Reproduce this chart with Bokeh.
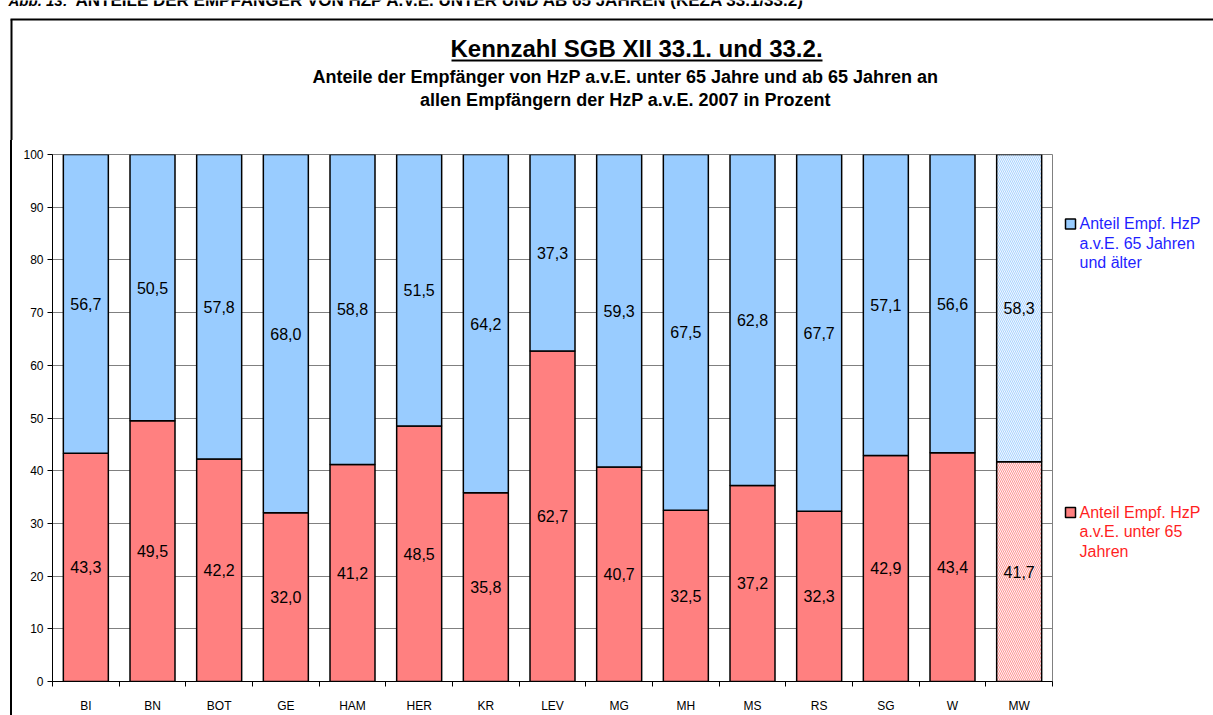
from bokeh.plotting import figure
from bokeh.layouts import column, row
from bokeh.models import (ColumnDataSource, FixedTicker, Range1d, CustomJSTickFormatter, Div)
from bokeh.core.properties import value, field
from bokeh.embed import file_html
from bokeh.resources import INLINE

# Kennzahl SGB XII 33.1 / 33.2 -- Anteile in Prozent, 2007
cities = ["BI", "BN", "BOT", "GE", "HAM", "HER", "KR", "LEV", "MG", "MH",
          "MS", "RS", "SG", "W", "MW"]
under_65 = [43.3, 49.5, 42.2, 32.0, 41.2, 48.5, 35.8, 62.7, 40.7, 32.5,
            37.2, 32.3, 42.9, 43.4, 41.7]
from_65 = [56.7, 50.5, 57.8, 68.0, 58.8, 51.5, 64.2, 37.3, 59.3, 67.5,
           62.8, 67.7, 57.1, 56.6, 58.3]
y_ticks = [0, 10, 20, 30, 40, 50, 60, 70, 80, 90, 100]

caption_lead = "Abb. 13:"
caption_text = "ANTEILE DER EMPFÄNGER VON HZP A.V.E. UNTER UND AB 65 JAHREN (KEZA 33.1/33.2)"
title_text = "Kennzahl SGB XII 33.1. und 33.2."
subtitle_lines = ["Anteile der Empfänger von HzP a.v.E. unter 65 Jahre und ab 65 Jahren an",
                  "allen Empfängern der HzP a.v.E. 2007 in Prozent"]
legend_over = "Anteil Empf. HzP\na.v.E. 65 Jahren\nund älter"
legend_under = "Anteil Empf. HzP\na.v.E. unter 65\nJahren"

FONT = value("Liberation Sans")
RED, BLUE = "#FF8080", "#99CCFF"
RED_PALE, BLUE_PALE = "#FFF2F2", "#F0F7FF"
BLUE_TEXT, RED_TEXT = "#1F1FFF", "#FF1F1F"

W_TOTAL, H_TOP = 1213, 140
W_LEFT, W_MAIN = 12, 1041
W_RIGHT = W_TOTAL - W_LEFT - W_MAIN
H_MAIN = 715 - H_TOP
BORDER_TOP, BORDER_BOTTOM = 14, 31          # space above / below the plot area
FRAME_TOP = H_TOP + BORDER_TOP              # page y of the 100 line
FRAME_BOTTOM = 715 - BORDER_BOTTOM          # page y of the 0 line


def de(v):
    return f"{v:.1f}".replace(".", ",")


def plain_fig(w, h, xr, yr, top=0, bottom=0):
    f = figure(width=w, height=h, x_range=xr, y_range=yr,
               output_backend="svg", toolbar_location=None,
               min_border_left=0, min_border_right=0,
               min_border_top=top, min_border_bottom=bottom,
               outline_line_color=None, background_fill_color="white",
               border_fill_color="white")
    f.axis.visible = False
    f.grid.visible = False
    return f


# ---------------- header: caption, frame edge, titles (page pixels) ----------------
head = plain_fig(W_TOTAL, H_TOP, Range1d(0, W_TOTAL), Range1d(H_TOP, 0))
head.text(x=[8], y=[0], text=[caption_lead], text_font=FONT, text_font_size="15px",
          text_font_style="bold italic", text_color="black", text_baseline="alphabetic")
head.text(x=[75], y=[0], text=[caption_text], text_font=FONT, text_font_size="17px",
          text_font_style="bold", text_color="black", text_baseline="alphabetic")
head.segment(x0=[10, 11], y0=[19, 19], x1=[W_TOTAL, 11], y1=[19, H_TOP],
             line_color="black", line_width=2)
head.text(x=[636], y=[48], text=[title_text], text_font=FONT, text_font_size="24px",
          text_font_style="bold", text_color="black", text_align="center",
          text_baseline="middle")
head.segment(x0=[451], y0=[60], x1=[822], y1=[60], line_color="black", line_width=2)
head.text(x=[625, 625], y=[76, 99], text=subtitle_lines, text_font=FONT,
          text_font_size="18px", text_font_style="bold", text_color="black",
          text_align="center", text_baseline="middle")

# ---------------- left edge of the chart frame ----------------
edge = Div(text='<div style="margin-left:10px;width:2px;height:%dpx;background:#000;"></div>' % H_MAIN,
           width=W_LEFT, height=H_MAIN, margin=0)

# ---------------- main chart ----------------
n = len(cities)
xs = [i + 0.5 for i in range(n)]
mean_bar = [c == "MW" for c in cities]

red_src = ColumnDataSource(dict(
    x=xs, bottom=[0.0] * n, top=under_65,
    mid=[u / 2 for u in under_65],
    fill=[RED_PALE if m else RED for m in mean_bar],
    hatch=["\\" if m else " " for m in mean_bar],
    label=[de(u) for u in under_65],
))
blue_src = ColumnDataSource(dict(
    x=xs, bottom=under_65, top=[u + o for u, o in zip(under_65, from_65)],
    mid=[u + o / 2 for u, o in zip(under_65, from_65)],
    fill=[BLUE_PALE if m else BLUE for m in mean_bar],
    hatch=["\\" if m else " " for m in mean_bar],
    label=[de(o) for o in from_65],
))

p = figure(width=W_MAIN, height=H_MAIN, x_range=Range1d(0, n), y_range=Range1d(0, 100),
           output_backend="svg", toolbar_location=None,
           min_border_left=40, min_border_right=1, min_border_top=BORDER_TOP,
           min_border_bottom=BORDER_BOTTOM, background_fill_color="white",
           border_fill_color="white", outline_line_color="#808080")

p.xgrid.visible = False
p.ygrid.ticker = FixedTicker(ticks=y_ticks)
p.ygrid.grid_line_color = "#808080"
p.ygrid.grid_line_width = 1

p.yaxis.ticker = FixedTicker(ticks=y_ticks)
p.yaxis.axis_line_color = "black"
p.yaxis.major_tick_line_color = "black"
p.yaxis.major_tick_in = 0
p.yaxis.major_tick_out = 5
p.yaxis.minor_tick_line_color = None
p.yaxis.major_label_text_font = "Liberation Sans"
p.yaxis.major_label_text_font_size = "12px"
p.yaxis.major_label_text_color = "black"
p.yaxis.major_label_standoff = 4

# names centred under the bars, tick marks between the categories
p.xaxis.ticker = FixedTicker(ticks=xs, minor_ticks=list(range(n + 1)))
p.xaxis.formatter = CustomJSTickFormatter(args=dict(names=cities),
                                          code="return names[Math.floor(tick)] || '';")
p.xaxis.axis_line_color = "black"
p.xaxis.major_tick_line_color = None
p.xaxis.major_tick_in = 0
p.xaxis.major_tick_out = 0
p.xaxis.minor_tick_line_color = "black"
p.xaxis.minor_tick_in = 0
p.xaxis.minor_tick_out = 5
p.xaxis.major_label_text_font = "Liberation Sans"
p.xaxis.major_label_text_font_size = "12px"
p.xaxis.major_label_text_color = "black"
p.xaxis.major_label_standoff = 12

bar_w = 0.675
red_r = p.vbar(x="x", bottom="bottom", top="top", width=bar_w, source=red_src,
               fill_color="fill", line_color="black", line_width=1.5,
               hatch_pattern=field("hatch"), hatch_color=RED, hatch_scale=4,
               hatch_weight=1, hatch_alpha=0.8)
blue_r = p.vbar(x="x", bottom="bottom", top="top", width=bar_w, source=blue_src,
                fill_color="fill", line_color="black", line_width=1.5,
                hatch_pattern=field("hatch"), hatch_color=BLUE, hatch_scale=4,
                hatch_weight=1, hatch_alpha=0.8)

for src in (red_src, blue_src):
    p.text(x="x", y="mid", text="label", source=src, text_align="center",
           text_baseline="middle", text_font=FONT, text_font_size="16px",
           text_color="black")

# ---------------- legend column (page pixels) ----------------
x_right0 = W_LEFT + W_MAIN
right = plain_fig(W_RIGHT, H_MAIN, Range1d(x_right0, W_TOTAL),
                  Range1d(FRAME_BOTTOM, FRAME_TOP), top=BORDER_TOP, bottom=BORDER_BOTTOM)
right.scatter(x=[1070, 1070], y=[224, 514], marker="square", size=10,
              fill_color=[BLUE, RED], line_color="black", line_width=1.5)
right.text(x=[1079, 1079], y=[215, 505], text=[legend_over, legend_under],
           text_color=[BLUE_TEXT, RED_TEXT], text_font=FONT, text_font_size="16px",
           text_baseline="top", text_line_height=1.15)

layout = column(head, row(edge, p, right, spacing=0), spacing=0)
open("out.html", "w").write(file_html(layout, INLINE))
